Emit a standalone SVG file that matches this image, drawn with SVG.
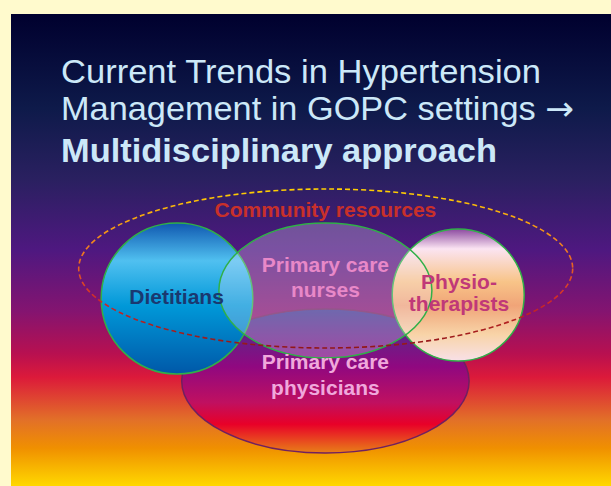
<svg xmlns="http://www.w3.org/2000/svg" width="611" height="486" viewBox="0 0 611 486">
<defs>
<linearGradient id="bg" x1="0" y1="14" x2="0" y2="486" gradientUnits="userSpaceOnUse">
<stop offset="0" stop-color="#00002e"/>
<stop offset="0.2" stop-color="#0e1a4a"/>
<stop offset="0.35" stop-color="#2a2060"/>
<stop offset="0.5" stop-color="#4e1880"/>
<stop offset="0.63" stop-color="#841470"/>
<stop offset="0.72" stop-color="#b81050"/>
<stop offset="0.77" stop-color="#dc1a3a"/>
<stop offset="0.86" stop-color="#e27028"/>
<stop offset="0.92" stop-color="#f09000"/>
<stop offset="1" stop-color="#ffd800"/>
</linearGradient>
<linearGradient id="diet" x1="0" y1="0" x2="0" y2="1">
<stop offset="0" stop-color="#1058b0"/>
<stop offset="0.25" stop-color="#50c0f0"/>
<stop offset="0.55" stop-color="#0098d8"/>
<stop offset="1" stop-color="#0058a8"/>
</linearGradient>
<linearGradient id="phys" x1="0" y1="0" x2="0" y2="1">
<stop offset="0" stop-color="#8c4aa0"/>
<stop offset="0.15" stop-color="#fbe4f2"/>
<stop offset="0.4" stop-color="#f8c488"/>
<stop offset="0.58" stop-color="#f0a478"/>
<stop offset="0.8" stop-color="#f8d4a8"/>
<stop offset="1" stop-color="#f8e0e8"/>
</linearGradient>
<linearGradient id="doc" x1="0" y1="0" x2="0" y2="1">
<stop offset="0" stop-color="#3e3890"/>
<stop offset="0.4" stop-color="#900880"/>
<stop offset="0.65" stop-color="#c01060"/>
<stop offset="0.8" stop-color="#e80028"/>
<stop offset="1" stop-color="#e88018"/>
</linearGradient>
<linearGradient id="dash" x1="0" y1="189" x2="0" y2="348" gradientUnits="userSpaceOnUse">
<stop offset="0" stop-color="#ffd000"/>
<stop offset="0.4" stop-color="#f07820"/>
<stop offset="0.7" stop-color="#d02828"/>
<stop offset="1" stop-color="#901818"/>
</linearGradient>
<style>
.title{font-family:"Liberation Sans",Arial,sans-serif;fill:#cce8f8;font-size:33px}
.lbl{font-family:"Liberation Sans",Arial,sans-serif;font-weight:bold;text-anchor:middle;font-size:21px}
.ring{stroke:#30b048;stroke-width:1.5}
</style>
</defs>
<rect x="0" y="0" width="611" height="486" fill="#fffacd"/>
<rect x="11" y="14" width="600" height="472" fill="url(#bg)"/>
<g id="title">
<text class="title" x="61" y="83" textLength="480" lengthAdjust="spacingAndGlyphs">Current Trends in Hypertension</text>
<text class="title" x="61" y="120" textLength="513" lengthAdjust="spacingAndGlyphs">Management in GOPC settings <tspan font-family="DejaVu Sans">→</tspan></text>
<text class="title" x="61" y="161.5" font-weight="bold" textLength="436" lengthAdjust="spacingAndGlyphs">Multidisciplinary approach</text>
</g>
<g id="physicians">
<ellipse cx="325.4" cy="381" rx="143.7" ry="72" fill="url(#doc)" stroke="#702060" stroke-width="1.5"/>
</g>
<g id="dietitians">
<ellipse class="ring" cx="177" cy="298.5" rx="75.8" ry="75.5" fill="url(#diet)"/>
</g>
<g id="physiotherapists">
<ellipse class="ring" cx="458.2" cy="295" rx="66" ry="66" fill="url(#phys)"/>
</g>
<g id="nurses">
<ellipse class="ring" cx="325.4" cy="290.5" rx="106.5" ry="67.5" fill="#f4ecff" fill-opacity="0.27"/>
</g>
<g id="community">
<ellipse cx="325.7" cy="268.5" rx="247" ry="79.5" fill="none" stroke="url(#dash)" stroke-width="1.6" stroke-dasharray="5,3"/>
</g>
<g id="labels">
<text class="lbl" x="325.4" y="217" fill="#c8302a">Community resources</text>
<text class="lbl" x="176.6" y="304" fill="#1a3870">Dietitians</text>
<text class="lbl" x="325.4" y="272" fill="#e888c8">Primary care</text>
<text class="lbl" x="325.4" y="297" fill="#e888c8">nurses</text>
<text class="lbl" x="325.4" y="369" fill="#f0a8dc">Primary care</text>
<text class="lbl" x="325.4" y="395" fill="#f0a8dc">physicians</text>
<text class="lbl" x="459" y="289" font-size="17.5" fill="#c03878">Physio-</text>
<text class="lbl" x="459" y="310.5" font-size="17.5" fill="#c03878">therapists</text>
</g>
</svg>
